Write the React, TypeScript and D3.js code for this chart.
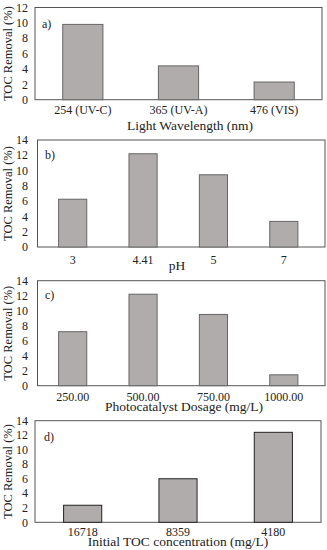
import React from "react";
import * as d3 from "d3";

const catsA = ["254 (UV-C)", "365 (UV-A)", "476 (VIS)"];
const valsA = [9.8, 4.4, 2.3];
const catsB = ["3", "4.41", "5", "7"];
const valsB = [6.25, 12.2, 9.45, 3.35];
const catsC = ["250.00", "500.00", "750.00", "1000.00"];
const valsC = [7.2, 12.2, 9.5, 1.45];
const catsD = ["16718", "8359", "4180"];
const valsD = [2.35, 6.0, 12.4];
const ticksA = [0, 2, 4, 6, 8, 10, 12];
const ticks14 = [0, 2, 4, 6, 8, 10, 12, 14];

const FONT = "'Liberation Serif', 'Times New Roman', serif";

type P = {
  cats: string[]; vals: number[]; ticks: number[]; max: number;
  left: number; right: number; bandRight: number; top: number; bottom: number;
  pad: number; label: string; lx: number; ly: number;
  title: string; tx: number; ty: number; tickY: number; stroke: string;
};

const panels: P[] = [
  { cats: catsA, vals: valsA, ticks: ticksA, max: 12, left: 35, right: 322, bandRight: 322, top: 7.5, bottom: 99.7, pad: 0.58, label: "a)", lx: 42, ly: 28, title: "Light Wavelength (nm)", tx: 190, ty: 130, tickY: 114, stroke: "#666" },
  { cats: catsB, vals: valsB, ticks: ticks14, max: 14, left: 37.5, right: 325, bandRight: 319, top: 140, bottom: 247, pad: 0.6, label: "b)", lx: 45, ly: 159, title: "pH", tx: 177, ty: 270, tickY: 264, stroke: "#666" },
  { cats: catsC, vals: valsC, ticks: ticks14, max: 14, left: 37.5, right: 325, bandRight: 319, top: 280.7, bottom: 385.7, pad: 0.6, label: "c)", lx: 45, ly: 299, title: "Photocatalyst Dosage (mg/L)", tx: 184, ty: 411, tickY: 401, stroke: "#666" },
  { cats: catsD, vals: valsD, ticks: ticks14, max: 14, left: 35, right: 321, bandRight: 321, top: 420.7, bottom: 522.3, pad: 0.6, label: "d)", lx: 44, ly: 441, title: "Initial TOC concentration (mg/L)", tx: 178, ty: 546, tickY: 536, stroke: "#222" },
];

function Panel({ p }: { p: P }) {
  const x = d3.scaleBand<string>().domain(p.cats).range([p.left, p.bandRight]).paddingInner(p.pad).paddingOuter(p.pad / 2);
  const y = d3.scaleLinear().domain([0, p.max]).range([p.bottom, p.top]);
  const mid = (p.top + p.bottom) / 2;
  return (
    <g>
      <rect x={p.left} y={p.top} width={p.right - p.left} height={p.bottom - p.top} fill="white" stroke="#555" strokeWidth={1} />
      {p.vals.map((v, i) => (
        <rect key={i} x={x(p.cats[i])} y={y(v)} width={x.bandwidth()} height={y(0) - y(v)} fill="#b1acac" stroke={p.stroke} strokeWidth={1} />
      ))}
      {p.ticks.map((t) => (
        <text key={t} x={28} y={y(t)} dy="0.35em" textAnchor="end" fontSize={12} fontFamily={FONT} fill="#222">{t}</text>
      ))}
      {p.cats.map((c) => (
        <text key={c} x={(x(c) as number) + x.bandwidth() / 2} y={p.tickY} textAnchor="middle" fontSize={12} fontFamily={FONT} fill="#222">{c}</text>
      ))}
      <text x={p.lx} y={p.ly} fontSize={12} fontFamily={FONT} fill="#222">{p.label}</text>
      <text x={p.tx} y={p.ty} textAnchor="middle" fontSize={13.5} fontFamily={FONT} fill="#222">{p.title}</text>
      <text transform={`translate(12,${mid}) rotate(-90)`} textAnchor="middle" fontSize={12.5} fontFamily={FONT} fill="#222">TOC Removal (%)</text>
    </g>
  );
}

export default function App() {
  return (
    <svg width={327} height={550} style={{ position: "absolute", left: 0, top: 0, background: "white" }}>
      {panels.map((p, i) => <Panel key={i} p={p} />)}
    </svg>
  );
}
